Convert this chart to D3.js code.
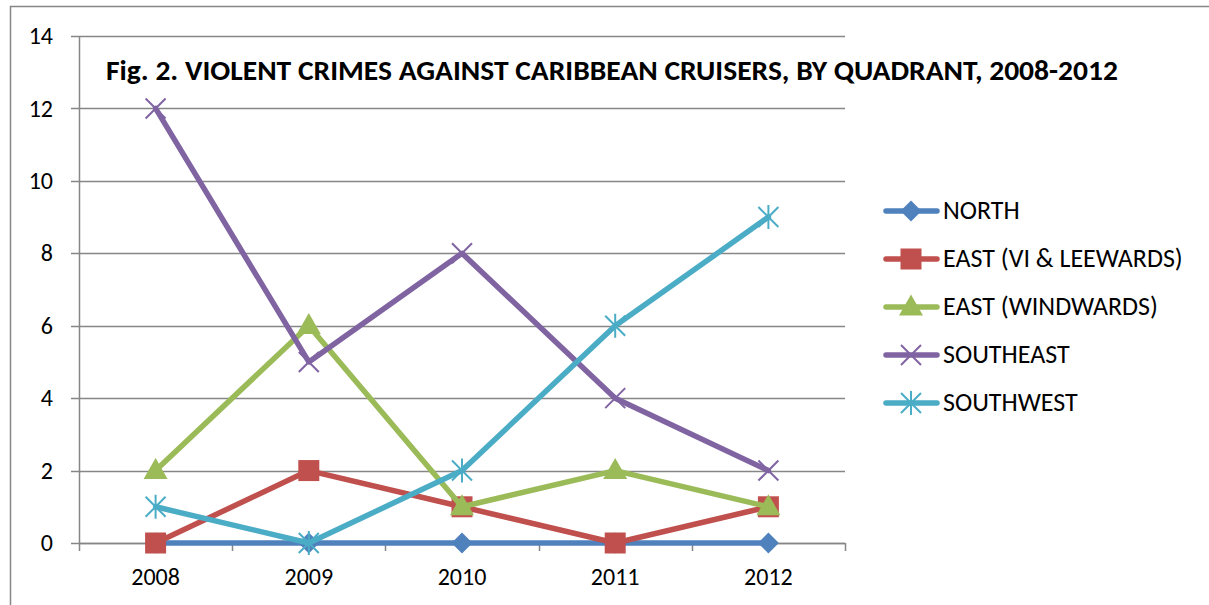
<!DOCTYPE html>
<html>
<head>
<meta charset="utf-8">
<script src="https://cdn.jsdelivr.net/npm/d3@7/dist/d3.min.js"></script>
<style>
  html, body { margin: 0; padding: 0; background: #fff; }
  svg { display: block; }
  text { font-family: Carlito, Lato, "Open Sans", sans-serif; }
</style>
</head>
<body>
<svg id="chart" width="1209" height="605"></svg>
<script>
// Violent crimes against Caribbean cruisers, by quadrant
const years = ["2008", "2009", "2010", "2011", "2012"];
const seriesNames = ["NORTH", "EAST (VI & LEEWARDS)", "EAST (WINDWARDS)", "SOUTHEAST", "SOUTHWEST"];
const north = [0, 0, 0, 0, 0];
const eastLeewards = [0, 2, 1, 0, 1];
const eastWindwards = [2, 6, 1, 2, 1];
const southeast = [12, 5, 8, 4, 2];
const southwest = [1, 0, 2, 6, 9];
const yTicks = [0, 2, 4, 6, 8, 10, 12, 14];
const colors = ["#4F81BD", "#C0504D", "#9BBB59", "#8064A2", "#4BACC6"];
const markers = ["diamond", "square", "triangle", "x", "star"];
const titleText = "Fig. 2. VIOLENT CRIMES AGAINST CARIBBEAN CRUISERS, BY QUADRANT, 2008-2012";

const seriesValues = [north, eastLeewards, eastWindwards, southeast, southwest];
const series = seriesNames.map((name, i) => ({
  name, values: seriesValues[i], color: colors[i], marker: markers[i]
}));

const svg = d3.select("#chart");
const gridColor = "#868686";

// outer frame
svg.append("rect")
  .attr("x", 10.5).attr("y", 6.5)
  .attr("width", 1300).attr("height", 700)
  .attr("fill", "none").attr("stroke", gridColor).attr("stroke-width", 1.5);

const plot = { left: 79, right: 845, top: 36, bottom: 543 };

const x = d3.scaleBand().domain(years).range([plot.left, plot.right]).padding(0);
const y = d3.scaleLinear().domain([0, 14]).range([plot.bottom, plot.top]);

// horizontal gridlines
svg.append("g")
  .selectAll("line")
  .data(yTicks)
  .join("line")
  .attr("x1", plot.left - 8).attr("x2", plot.right)
  .attr("y1", d => Math.round(y(d)) + 0.5).attr("y2", d => Math.round(y(d)) + 0.5)
  .attr("stroke", gridColor).attr("stroke-width", 1.5);

// y axis
const yAxis = svg.append("g")
  .attr("transform", `translate(${plot.left},0)`)
  .call(d3.axisLeft(y).tickValues(yTicks).tickSize(0).tickPadding(26));
yAxis.select(".domain").attr("stroke", gridColor).attr("stroke-width", 1.5);
yAxis.selectAll("text").attr("font-size", 24).attr("fill", "#000");

// x axis with category boundary ticks
const xAxis = svg.append("g")
  .attr("transform", `translate(0,${plot.bottom})`);
xAxis.append("line")
  .attr("x1", plot.left).attr("x2", plot.right)
  .attr("y1", 0.5).attr("y2", 0.5)
  .attr("stroke", gridColor).attr("stroke-width", 1.5);
const bounds = years.map(d => x(d)).concat([x(years[years.length - 1]) + x.bandwidth()]);
xAxis.selectAll("line.tick")
  .data(bounds)
  .join("line")
  .attr("class", "tick")
  .attr("x1", d => Math.round(d) + 0.5).attr("x2", d => Math.round(d) + 0.5)
  .attr("y1", 0).attr("y2", 8)
  .attr("stroke", gridColor).attr("stroke-width", 1.5);
xAxis.selectAll("text")
  .data(years)
  .join("text")
  .attr("x", d => x(d) + x.bandwidth() / 2)
  .attr("y", 42)
  .attr("text-anchor", "middle")
  .attr("font-size", 24)
  .attr("fill", "#000")
  .text(d => d);

// title
svg.append("text")
  .attr("x", 106).attr("y", 80)
  .attr("font-size", 28).attr("font-weight", "bold").attr("fill", "#000")
  .attr("textLength", 1012).attr("lengthAdjust", "spacingAndGlyphs")
  .text(titleText);

// marker drawing
function drawMarker(g, type, color, cx, cy, scale) {
  const s = scale || 1;
  if (type === "diamond") {
    const r = 10.5 * s;
    g.append("path")
      .attr("d", `M${cx},${cy - r}L${cx + r},${cy}L${cx},${cy + r}L${cx - r},${cy}Z`)
      .attr("fill", color);
  } else if (type === "square") {
    const r = 10.5 * s;
    g.append("rect")
      .attr("x", cx - r).attr("y", cy - r)
      .attr("width", 2 * r).attr("height", 2 * r)
      .attr("fill", color);
  } else if (type === "triangle") {
    const w = 12 * s, h = 21 * s;
    g.append("path")
      .attr("d", `M${cx},${cy - h * 0.6}L${cx + w},${cy + h * 0.4}L${cx - w},${cy + h * 0.4}Z`)
      .attr("fill", color);
  } else if (type === "x") {
    const r = 10 * s;
    g.append("path")
      .attr("d", `M${cx - r},${cy - r}L${cx + r},${cy + r}M${cx - r},${cy + r}L${cx + r},${cy - r}`)
      .attr("stroke", color).attr("stroke-width", 2).attr("fill", "none");
  } else if (type === "star") {
    const r = 10 * s;
    g.append("path")
      .attr("d", `M${cx - r},${cy - r}L${cx + r},${cy + r}M${cx - r},${cy + r}L${cx + r},${cy - r}M${cx},${cy - r * 1.2}L${cx},${cy + r * 1.2}`)
      .attr("stroke", color).attr("stroke-width", 2).attr("fill", "none");
  }
}

const line = d3.line()
  .x((d, i) => x(years[i]) + x.bandwidth() / 2)
  .y(d => y(d));

// series lines and markers
series.forEach(s => {
  const g = svg.append("g");
  g.append("path")
    .datum(s.values)
    .attr("d", line)
    .attr("fill", "none")
    .attr("stroke", s.color)
    .attr("stroke-width", 5.5)
    .attr("stroke-linejoin", "round")
    .attr("stroke-linecap", "round");
  s.values.forEach((v, i) => {
    drawMarker(g, s.marker, s.color, x(years[i]) + x.bandwidth() / 2, y(v));
  });
});

// legend
const legend = svg.append("g");
series.forEach((s, i) => {
  const ly = 211 + i * 48;
  const g = legend.append("g");
  g.append("line")
    .attr("x1", 886).attr("x2", 937)
    .attr("y1", ly).attr("y2", ly)
    .attr("stroke", s.color).attr("stroke-width", 5.5)
    .attr("stroke-linecap", "round");
  drawMarker(g, s.marker, s.color, 911, ly);
  g.append("text")
    .attr("x", 943).attr("y", ly + 8)
    .attr("font-size", 26).attr("fill", "#000")
    .text(s.name);
});
</script>
</body>
</html>
